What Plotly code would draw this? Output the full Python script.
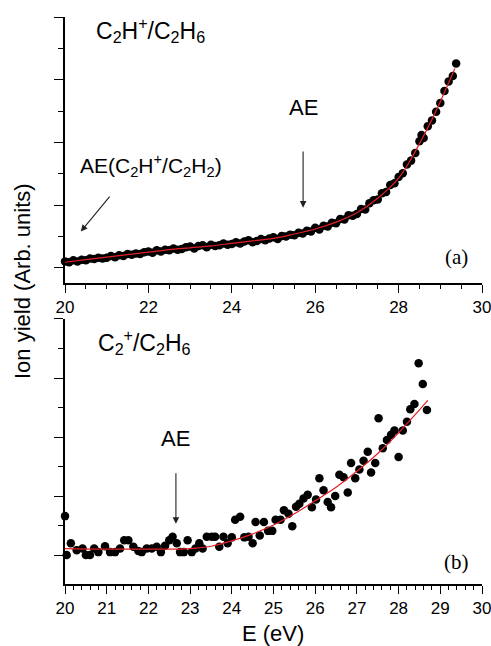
import plotly.graph_objects as go

# ---------------- Panel (a): C2H+/C2H6 ----------------
energy_a = [20.0, 20.1, 20.2, 20.3, 20.4, 20.5, 20.6, 20.7, 20.8, 20.9,
            21.0, 21.1, 21.2, 21.3, 21.4, 21.5, 21.6, 21.7, 21.8, 21.9,
            22.0, 22.1, 22.2, 22.3, 22.4, 22.5, 22.6, 22.7, 22.8, 22.9,
            23.0, 23.1, 23.2, 23.3, 23.4, 23.5, 23.6, 23.7, 23.8, 23.9,
            24.0, 24.1, 24.2, 24.3, 24.4, 24.5, 24.6, 24.7, 24.8, 24.9,
            25.0, 25.1, 25.2, 25.3, 25.4, 25.5, 25.6, 25.7, 25.8, 25.9,
            26.0, 26.1, 26.2, 26.3, 26.4, 26.5, 26.6, 26.7, 26.8, 26.9,
            27.0, 27.1, 27.2, 27.3, 27.4, 27.5, 27.6, 27.7, 27.8, 27.9,
            28.0, 28.1, 28.2, 28.3, 28.4, 28.5, 28.6, 28.7, 28.8, 28.9,
            29.0, 29.1, 29.2, 29.3, 28.55, 29.38]
yield_a = [0.10, 0.09, 0.12, 0.10, 0.13, 0.12, 0.15, 0.14, 0.16, 0.15,
           0.16, 0.19, 0.17, 0.20, 0.19, 0.22, 0.21, 0.23, 0.22, 0.25,
           0.26, 0.24, 0.28, 0.26, 0.29, 0.28, 0.31, 0.29, 0.30, 0.33,
           0.34, 0.31, 0.35, 0.36, 0.33, 0.37, 0.35, 0.36, 0.39, 0.37,
           0.38, 0.41, 0.39, 0.42, 0.44, 0.41, 0.43, 0.46, 0.44, 0.47,
           0.49, 0.46, 0.51, 0.50, 0.53, 0.52, 0.56, 0.55, 0.59, 0.58,
           0.64, 0.61, 0.67, 0.66, 0.72, 0.71, 0.78, 0.77, 0.84, 0.83,
           0.86, 0.94, 0.93, 1.03, 1.08, 1.09, 1.19, 1.21, 1.32, 1.35,
           1.45, 1.51, 1.65, 1.71, 1.83, 2.02, 2.07, 2.26, 2.35, 2.49,
           2.63, 2.82, 2.97, 3.06, 2.12, 3.26]
fit_energy_a = [20.0, 20.5, 21.0, 21.5, 22.0, 22.5, 23.0, 23.5, 24.0, 24.5,
                25.0, 25.5, 26.0, 26.5, 27.0, 27.5, 28.0, 28.25, 28.5, 28.75,
                29.0, 29.2, 29.35]
fit_a = [0.09, 0.13, 0.17, 0.21, 0.25, 0.29, 0.32, 0.35, 0.39, 0.43,
         0.47, 0.54, 0.62, 0.73, 0.88, 1.11, 1.43, 1.68, 1.98, 2.30,
         2.65, 2.95, 3.18]

# ---------------- Panel (b): C2+/C2H6 ----------------
energy_b = [20.0, 20.04, 20.14, 20.28, 20.42, 20.5, 20.6, 20.7, 20.8, 20.96,
            21.08, 21.2, 21.32, 21.42, 21.52, 21.64, 21.76, 21.84, 21.96, 22.08,
            22.2, 22.3, 22.4, 22.5, 22.58, 22.68, 22.76, 22.85, 22.94, 23.04,
            23.13, 23.22, 23.3, 23.4, 23.52, 23.6, 23.7, 23.8, 23.9, 24.0,
            24.08, 24.2, 24.3, 24.4, 24.5, 24.57, 24.67, 24.77, 24.87, 24.97,
            25.05, 25.17, 25.25, 25.36, 25.45, 25.54, 25.62, 25.72, 25.82, 25.92,
            26.02, 26.1, 26.2, 26.3, 26.38, 26.48, 26.58, 26.68, 26.78, 26.86,
            26.96, 27.06, 27.16, 27.26, 27.34, 27.44, 27.52, 27.62, 27.72, 27.82,
            27.9, 28.0, 28.1, 28.2, 28.28, 28.38, 28.48, 28.58, 28.68]
yield_b = [0.66, 0.0, 0.2, 0.08, 0.11, 0.0, 0.0, 0.11, 0.05, 0.15,
           0.05, 0.05, 0.11, 0.25, 0.25, 0.14, 0.07, 0.05, 0.11, 0.11,
           0.14, 0.05, 0.16, 0.25, 0.31, 0.2, 0.05, 0.05, 0.25, 0.05,
           0.11, 0.2, 0.11, 0.31, 0.31, 0.31, 0.14, 0.31, 0.2, 0.3,
           0.6, 0.65, 0.3, 0.31, 0.2, 0.56, 0.33, 0.56, 0.41, 0.41,
           0.6, 0.6, 0.76, 0.7, 0.49, 0.82, 0.87, 0.96, 1.02, 0.81,
           0.94, 1.3, 1.1, 0.9, 0.81, 1.0, 1.36, 1.32, 1.06, 1.56,
           1.3, 1.45, 1.6, 1.75, 1.4, 1.56, 2.32, 1.81, 1.95, 2.04,
           2.11, 1.66, 2.11, 2.26, 2.47, 2.56, 3.25, 2.9, 2.46]
fit_energy_b = [20.0, 21.0, 22.0, 22.5, 23.0, 23.5, 24.0, 24.5, 25.0, 25.5,
                26.0, 26.5, 27.0, 27.5, 28.0, 28.5, 28.7]
fit_b = [0.11, 0.10, 0.10, 0.10, 0.11, 0.15, 0.24, 0.36, 0.51, 0.70,
         0.92, 1.15, 1.42, 1.72, 2.07, 2.46, 2.62]

SANS = "Liberation Sans, Arial, Helvetica, sans-serif"
SERIF = "Liberation Serif, Times New Roman, serif"
RED = "rgb(228,32,38)"

fig = go.Figure()
fig.add_trace(go.Scatter(x=energy_a, y=yield_a, mode="markers",
                         marker=dict(color="black", size=8.5),
                         xaxis="x", yaxis="y", showlegend=False, cliponaxis=False))
fig.add_trace(go.Scatter(x=fit_energy_a, y=fit_a, mode="lines",
                         line=dict(color=RED, width=1.2, shape="spline"),
                         xaxis="x", yaxis="y", showlegend=False))
fig.add_trace(go.Scatter(x=energy_b, y=yield_b, mode="markers",
                         marker=dict(color="black", size=8.5),
                         xaxis="x2", yaxis="y2", showlegend=False, cliponaxis=False))
fig.add_trace(go.Scatter(x=fit_energy_b, y=fit_b, mode="lines",
                         line=dict(color=RED, width=1.2, shape="spline"),
                         xaxis="x2", yaxis="y2", showlegend=False))

common_x = dict(range=[20, 30], showline=True, linecolor="black", linewidth=1.5,
                ticks="outside", ticklen=8, tickwidth=1.3, tickcolor="black",
                showgrid=False, zeroline=False, automargin=False,
                ticklabeloverflow="allow",
                tickfont=dict(family=SANS, size=17, color="black"))
common_y = dict(showline=True, linecolor="black", linewidth=1.5,
                ticks="outside", ticklen=9, tickwidth=1.3, tickcolor="black",
                showticklabels=False, showgrid=False, zeroline=False,
                automargin=False, tick0=0, dtick=1,
                minor=dict(ticks="outside", dtick=0.5, ticklen=5, tickwidth=1.1,
                           tickcolor="black", showgrid=False))

fig.update_layout(
    width=491, height=646,
    margin=dict(l=65, r=9, t=17, b=62, autoexpand=False),
    paper_bgcolor="white", plot_bgcolor="white",
    xaxis=dict(common_x, domain=[0, 1], anchor="y", tick0=20, dtick=2,
               minor=dict(ticks="outside", dtick=0.5, ticklen=4, tickwidth=1.1,
                          tickcolor="black", showgrid=False)),
    yaxis=dict(common_y, domain=[0.531, 1], anchor="x", range=[-0.24, 4.0]),
    xaxis2=dict(common_x, domain=[0, 1], anchor="y2", tick0=20, dtick=1,
                minor=dict(ticks="outside", dtick=0.2, ticklen=4, tickwidth=1.1,
                           tickcolor="black", showgrid=False)),
    yaxis2=dict(common_y, domain=[0, 0.4674], anchor="x2", range=[-0.49, 4.0]),
)

ann = []
# Panel titles
ann.append(dict(x=20.70, y=3.79, xref="x", yref="y", xanchor="left", yanchor="middle",
                text="C<sub>2</sub>H<sup>+</sup>/C<sub>2</sub>H<sub>6</sub>",
                showarrow=False, font=dict(family=SANS, size=23, color="black")))
ann.append(dict(x=20.75, y=3.61, xref="x2", yref="y2", xanchor="left", yanchor="middle",
                text="C<sub>2</sub><sup>+</sup>/C<sub>2</sub>H<sub>6</sub>",
                showarrow=False, font=dict(family=SANS, size=23, color="black")))
# AE labels and arrows (panel a)
ann.append(dict(x=25.71, y=2.55, xref="x", yref="y", text="AE", showarrow=False,
                font=dict(family=SANS, size=22, color="black")))
ann.append(dict(x=25.71, y=0.96, ax=25.71, ay=1.88, xref="x", yref="y",
                axref="x", ayref="y", text="", showarrow=True, arrowhead=2,
                arrowsize=1.2, arrowwidth=1.1, arrowcolor="#222"))
ann.append(dict(x=20.31, y=1.64, xref="x", yref="y", xanchor="left",
                text="AE(C<sub>2</sub>H<sup>+</sup>/C<sub>2</sub>H<sub>2</sub>)",
                showarrow=False, font=dict(family=SANS, size=21, color="black")))
ann.append(dict(x=20.38, y=0.58, ax=21.1, ay=1.16, xref="x", yref="y",
                axref="x", ayref="y", text="", showarrow=True, arrowhead=2,
                arrowsize=1.2, arrowwidth=1.1, arrowcolor="#222"))
# AE label and arrow (panel b)
ann.append(dict(x=22.66, y=1.97, xref="x2", yref="y2", text="AE", showarrow=False,
                font=dict(family=SANS, size=22, color="black")))
ann.append(dict(x=22.66, y=0.53, ax=22.66, ay=1.41, xref="x2", yref="y2",
                axref="x2", ayref="y2", text="", showarrow=True, arrowhead=2,
                arrowsize=1.2, arrowwidth=1.1, arrowcolor="#222"))
# Panel letters
ann.append(dict(x=29.38, y=0.18, xref="x", yref="y", text="(a)", showarrow=False,
                font=dict(family=SERIF, size=21, color="black")))
ann.append(dict(x=29.38, y=-0.12, xref="x2", yref="y2", text="(b)", showarrow=False,
                font=dict(family=SERIF, size=21, color="black")))
# Axis titles (positions given in pixels, converted to paper fractions below)
ann.append(dict(x=22, y=281, xref="paper", yref="paper", text="Ion yield (Arb. units)",
                showarrow=False, textangle=-90,
                font=dict(family=SANS, size=22, color="black")))
ann.append(dict(x=273, y=633, xref="paper", yref="paper", text="E (eV)",
                showarrow=False, font=dict(family=SANS, size=22, color="black")))

plot_w, plot_h = 491 - 65 - 9, 646 - 17 - 62
for a in ann[-2:]:
    a["x"] = (a["x"] - 65) / plot_w
    a["y"] = (646 - 62 - a["y"]) / plot_h
    a["xanchor"] = "center"
    a["yanchor"] = "middle"

fig.update_layout(annotations=ann)
fig.write_html("out.html", config={"displayModeBar": False},
               post_script="document.body.style.margin='0px';"
                           "document.body.style.overflow='hidden';")
